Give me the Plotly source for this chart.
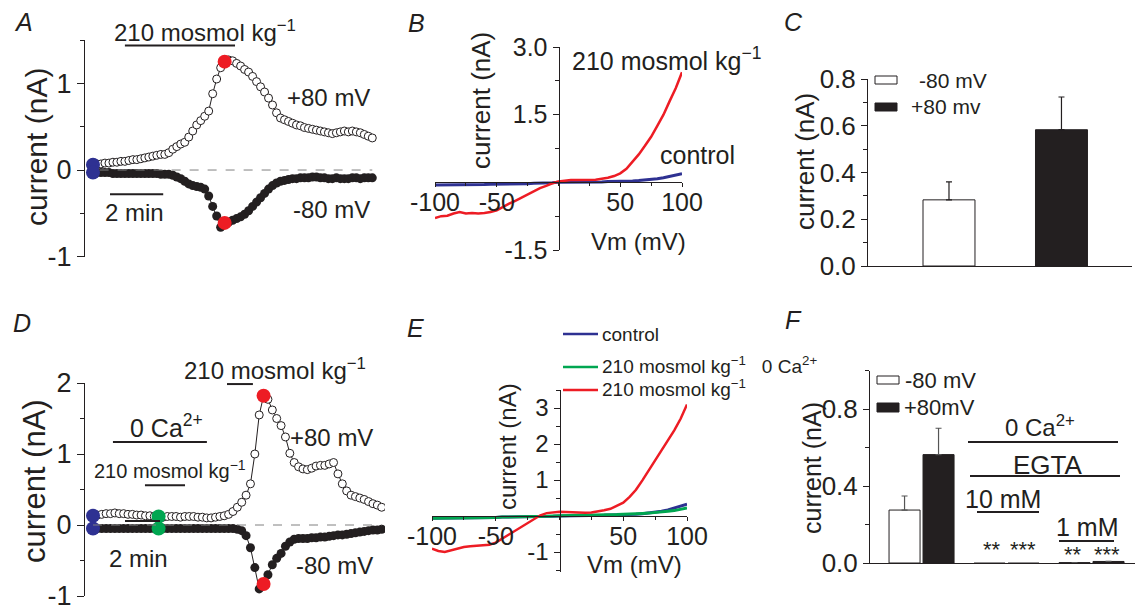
import plotly.graph_objects as go

W, H = 1137, 606
FONT = "Liberation Sans, Arial, Helvetica, sans-serif"
INK = "#231F20"
RED = "#ED1C24"
BLUE = "#2E3192"
GREEN = "#00A651"

# ---------------- data ----------------
# Panel A: time course, sampled every 0.15 min
a_dt = 0.15
a_pos80 = [0.06, 0.07, 0.07, 0.08, 0.08, 0.09, 0.09, 0.10, 0.10, 0.11,
           0.12, 0.12, 0.13, 0.14, 0.15, 0.16, 0.17, 0.18, 0.18, 0.20,
           0.24, 0.27, 0.30, 0.32, 0.38, 0.45, 0.52, 0.57, 0.62, 0.68,
           0.88, 1.05, 1.18, 1.25, 1.27, 1.26, 1.23, 1.20, 1.16, 1.13,
           1.08, 1.02, 0.96, 0.90, 0.83, 0.75, 0.66, 0.60, 0.58, 0.56,
           0.54, 0.52, 0.51, 0.49, 0.48, 0.47, 0.46, 0.45, 0.44, 0.43,
           0.42, 0.43, 0.44, 0.45, 0.44, 0.45, 0.44, 0.43, 0.41, 0.39,
           0.37]
a_neg80 = [-0.03, -0.03, -0.03, -0.03, -0.03, -0.04, -0.04, -0.04, -0.04, -0.04,
           -0.04, -0.04, -0.04, -0.04, -0.04, -0.04, -0.04, -0.05, -0.05, -0.05,
           -0.06, -0.08, -0.10, -0.13, -0.16, -0.18, -0.19, -0.20, -0.22, -0.30,
           -0.42, -0.53, -0.66, -0.61, -0.60, -0.58, -0.56, -0.54, -0.51, -0.47,
           -0.42, -0.37, -0.32, -0.27, -0.22, -0.18, -0.15, -0.13, -0.12, -0.11,
           -0.10, -0.10, -0.09, -0.09, -0.09, -0.08, -0.08, -0.09, -0.09, -0.10,
           -0.10, -0.09, -0.10, -0.10, -0.10, -0.09, -0.09, -0.10, -0.09, -0.09,
           -0.09]
a_blue_idx = 0
a_red_idx = 33

# Panel B: I-V curves
b_vm = list(range(-100, 101, 5))
b_hypo = [-0.79, -0.75, -0.74, -0.69, -0.66, -0.69, -0.68, -0.69, -0.68, -0.66,
          -0.62, -0.54, -0.47, -0.41, -0.34, -0.26, -0.19, -0.13, -0.08, -0.02,
          0.02, 0.04, 0.05, 0.05, 0.05, 0.05, 0.06, 0.08, 0.10, 0.14,
          0.20, 0.30, 0.45, 0.62, 0.81, 1.01, 1.25, 1.50, 1.80, 2.09,
          2.44]
b_ctrl = [-0.06, -0.06, -0.06, -0.06, -0.05, -0.05, -0.05, -0.05, -0.05, -0.04,
          -0.04, -0.04, -0.04, -0.03, -0.03, -0.03, -0.02, -0.02, -0.01, -0.01,
          0.00, 0.00, 0.01, 0.01, 0.01, 0.01, 0.01, 0.01, 0.02, 0.02,
          0.02, 0.03, 0.03, 0.04, 0.05, 0.06, 0.08, 0.10, 0.13, 0.15,
          0.19]

# Panel C: summary bars
c_labels = ["-80 mV", "+80 mv"]
c_mean = [0.283, 0.583]
c_sem = [0.077, 0.140]

# Panel D: time course, sampled every 0.25 min
d_dt = 0.25
d_pos80 = [0.13, 0.14, 0.15, 0.16, 0.16, 0.17, 0.16, 0.16, 0.15, 0.15,
           0.14, 0.14, 0.13, 0.13, 0.12, 0.12, 0.11, 0.12, 0.12, 0.12,
           0.11, 0.12, 0.12, 0.12, 0.11, 0.11, 0.10, 0.10, 0.11, 0.12,
           0.13, 0.15, 0.19, 0.25, 0.32, 0.42, 0.58, 1.00, 1.55, 1.82,
           1.77, 1.62, 1.50, 1.40, 1.24, 1.01, 0.88, 0.82, 0.79, 0.78,
           0.80, 0.83, 0.84, 0.84, 0.86, 0.88, 0.72, 0.58, 0.48, 0.42,
           0.40, 0.38, 0.36, 0.33, 0.30, 0.28, 0.25]
d_neg80 = [-0.05, -0.05, -0.05, -0.05, -0.05, -0.05, -0.05, -0.05, -0.05, -0.05,
           -0.05, -0.05, -0.05, -0.05, -0.05, -0.05, -0.05, -0.05, -0.05, -0.05,
           -0.05, -0.05, -0.05, -0.05, -0.05, -0.05, -0.05, -0.05, -0.05, -0.05,
           -0.05, -0.05, -0.05, -0.06, -0.08, -0.15, -0.32, -0.60, -0.90, -0.83,
           -0.70, -0.56, -0.47, -0.40, -0.30, -0.24, -0.20, -0.19, -0.19, -0.19,
           -0.18, -0.18, -0.17, -0.17, -0.16, -0.15, -0.14, -0.14, -0.13, -0.12,
           -0.11, -0.10, -0.09, -0.08, -0.07, -0.07, -0.06]
d_blue_idx = 0
d_green_idx = 15
d_red_idx = 39

# Panel E: I-V curves
e_vm = list(range(-100, 101, 5))
e_hypo = [-0.91, -0.97, -1.00, -0.95, -0.91, -0.86, -0.84, -0.83, -0.82, -0.80,
          -0.74, -0.63, -0.52, -0.40, -0.29, -0.19, -0.07, 0.02, 0.08, 0.11,
          0.12, 0.11, 0.10, 0.09, 0.09, 0.10, 0.12, 0.16, 0.20, 0.28,
          0.37, 0.53, 0.73, 0.99, 1.27, 1.55, 1.81, 2.08, 2.38, 2.70,
          3.10]
e_ctrl = [-0.06, -0.06, -0.06, -0.05, -0.05, -0.05, -0.05, -0.04, -0.04, -0.04,
          -0.04, -0.03, -0.03, -0.03, -0.02, -0.02, -0.02, -0.01, -0.01, -0.01,
          0.00, 0.00, 0.01, 0.01, 0.01, 0.02, 0.02, 0.02, 0.03, 0.03,
          0.04, 0.04, 0.05, 0.06, 0.08, 0.10, 0.13, 0.17, 0.22, 0.27,
          0.33]
e_hypo0ca = [-0.06, -0.06, -0.06, -0.05, -0.05, -0.05, -0.05, -0.04, -0.04, -0.04,
             -0.04, -0.03, -0.03, -0.03, -0.02, -0.02, -0.02, -0.01, -0.01, 0.00,
             0.01, 0.01, 0.01, 0.02, 0.02, 0.02, 0.03, 0.03, 0.04, 0.04,
             0.05, 0.05, 0.06, 0.07, 0.08, 0.09, 0.11, 0.13, 0.15, 0.18,
             0.22]

# Panel F: summary bars (control, 10 mM EGTA, 1 mM EGTA)
f_groups = [0, 1, 2]
f_neg80 = [0.275, -0.008, 0.002]
f_neg80_sem = [0.073, 0.0, 0.0]
f_pos80 = [0.563, -0.008, 0.008]
f_pos80_sem = [0.137, 0.0, 0.0]


# ---------------- helpers ----------------
def fx(px):
    return px / W


def fy(py):
    return 1 - py / H


def zero_pos(dom, rng):
    return dom[0] + (0 - rng[0]) / (rng[1] - rng[0]) * (dom[1] - dom[0])


annotations = []
shapes = []


def txt(px, py, s, size=24, xa="center", ya="middle", angle=0):
    annotations.append(dict(x=fx(px), y=fy(py), xref="paper", yref="paper", text=s,
                            showarrow=False, xanchor=xa, yanchor=ya, textangle=angle,
                            font=dict(size=size, color=INK, family=FONT)))


def pline(x0, x1, y, width=2):
    shapes.append(dict(type="line", xref="paper", yref="paper", x0=fx(x0), x1=fx(x1),
                       y0=fy(y), y1=fy(y), line=dict(color=INK, width=width)))


def dline(xr, yr, x0, x1, y, width=2, dash=None, color=INK):
    ln = dict(color=color, width=width)
    if dash:
        ln["dash"] = dash
    shapes.append(dict(type="line", xref=xr, yref=yr, x0=x0, x1=x1, y0=y, y1=y, line=ln))


def prect(x0, y0, x1, y1, fill):
    shapes.append(dict(type="rect", xref="paper", yref="paper", x0=fx(x0), x1=fx(x1),
                       y0=fy(y1), y1=fy(y0), fillcolor=fill, line=dict(color=INK, width=1)))


fig = go.Figure()

# ---------- Panel A ----------
a_t = [i * a_dt for i in range(len(a_pos80))]
dline("x", "y", a_t[1] + 0.1, a_t[-1], 0, width=1, dash="dash", color="#808080")
fig.add_trace(go.Scatter(x=a_t, y=a_neg80, mode="lines+markers", line=dict(color=INK, width=1),
                         marker=dict(size=9, color=INK), xaxis="x", yaxis="y"))
fig.add_trace(go.Scatter(x=a_t, y=a_pos80, mode="lines+markers", line=dict(color=INK, width=1),
                         marker=dict(size=8, color="white", line=dict(color=INK, width=1)),
                         xaxis="x", yaxis="y"))
fig.add_trace(go.Scatter(x=[a_t[a_blue_idx]] * 2, y=[a_pos80[a_blue_idx], a_neg80[a_blue_idx]],
                         mode="markers", marker=dict(size=14, color=BLUE), xaxis="x", yaxis="y"))
fig.add_trace(go.Scatter(x=[a_t[a_red_idx]] * 2, y=[a_pos80[a_red_idx], a_neg80[a_red_idx]],
                         mode="markers", marker=dict(size=14, color=RED), xaxis="x", yaxis="y"))

# ---------- Panel B ----------
fig.add_trace(go.Scatter(x=b_vm, y=b_ctrl, mode="lines", line=dict(color=BLUE, width=3),
                         xaxis="x2", yaxis="y2"))
fig.add_trace(go.Scatter(x=b_vm, y=b_hypo, mode="lines", line=dict(color=RED, width=2.5),
                         xaxis="x2", yaxis="y2"))

# ---------- Panel C ----------
c_fill = ["white", INK]
for i in range(2):
    fig.add_trace(go.Bar(x=[i], y=[c_mean[i]], width=0.462, offset=-0.231,
                         marker=dict(color=c_fill[i], line=dict(color=INK, width=1)),
                         error_y=dict(type="data", symmetric=False, array=[c_sem[i]], arrayminus=[0],
                                      color=INK, thickness=1.2, width=3),
                         xaxis="x3", yaxis="y3"))

# ---------- Panel D ----------
d_t = [i * d_dt for i in range(len(d_pos80))]
dline("x4", "y4", d_t[0], d_t[-1], 0, width=1, dash="dash", color="#808080")
fig.add_trace(go.Scatter(x=d_t, y=d_neg80, mode="lines+markers", line=dict(color=INK, width=1),
                         marker=dict(size=9, color=INK), xaxis="x4", yaxis="y4"))
fig.add_trace(go.Scatter(x=d_t, y=d_pos80, mode="lines+markers", line=dict(color=INK, width=1),
                         marker=dict(size=8, color="white", line=dict(color=INK, width=1)),
                         xaxis="x4", yaxis="y4"))
for idx, col in [(d_blue_idx, BLUE), (d_green_idx, GREEN), (d_red_idx, RED)]:
    fig.add_trace(go.Scatter(x=[d_t[idx]] * 2, y=[d_pos80[idx], d_neg80[idx]], mode="markers",
                             marker=dict(size=14, color=col), xaxis="x4", yaxis="y4"))

# ---------- Panel E ----------
fig.add_trace(go.Scatter(x=e_vm, y=e_ctrl, mode="lines", line=dict(color=BLUE, width=3),
                         xaxis="x5", yaxis="y5"))
fig.add_trace(go.Scatter(x=e_vm, y=e_hypo0ca, mode="lines", line=dict(color=GREEN, width=3),
                         xaxis="x5", yaxis="y5"))
fig.add_trace(go.Scatter(x=e_vm, y=e_hypo, mode="lines", line=dict(color=RED, width=2.5),
                         xaxis="x5", yaxis="y5"))

# ---------- Panel F ----------
fig.add_trace(go.Bar(x=f_groups, y=f_neg80, width=0.365, offset=-0.382,
                     marker=dict(color="white", line=dict(color=INK, width=1)),
                     error_y=dict(type="data", symmetric=False, array=f_neg80_sem,
                                  arrayminus=[0, 0, 0], color="#555555", thickness=1.2, width=3),
                     xaxis="x6", yaxis="y6"))
fig.add_trace(go.Bar(x=f_groups, y=f_pos80, width=0.365, offset=0.018,
                     marker=dict(color=INK, line=dict(color=INK, width=1)),
                     error_y=dict(type="data", symmetric=False, array=f_pos80_sem,
                                  arrayminus=[0, 0, 0], color="#555555", thickness=1.2, width=3),
                     xaxis="x6", yaxis="y6"))


# ---------------- axes ----------------
def yax(dom, rng, tickvals, ticktext, minor_dtick, anchor=None, position=None, ticklen=7, size=26):
    d = dict(domain=dom, range=rng, showline=True, linecolor=INK, linewidth=1, ticks="outside",
             ticklen=ticklen, tickcolor=INK, tickwidth=1, tickvals=tickvals, ticktext=ticktext,
             tickfont=dict(size=size, color=INK, family=FONT), showgrid=False, zeroline=False,
             automargin=False, fixedrange=True, ticklabeloverflow="allow",
             minor=dict(dtick=minor_dtick, ticks="outside", ticklen=4, tickcolor=INK, showgrid=False))
    if position is not None:
        d["anchor"] = "free"
        d["position"] = position
    else:
        d["anchor"] = anchor
    return d


def xiv(dom, rng, position, size):
    return dict(domain=dom, range=rng, anchor="free", position=position,
                showline=True, linecolor=INK, linewidth=1, ticks="outside", ticklen=4,
                tickcolor=INK, tickvals=[-100, -50, 50, 100], ticktext=["-100", "-50", "50", "100"],
                tickfont=dict(size=size, color=INK, family=FONT), showgrid=False, zeroline=False,
                automargin=False, ticklabeloverflow="allow", ticklabelstandoff=-6,
                minor=dict(dtick=25, ticks="outside", ticklen=3, tickcolor=INK, showgrid=False))


def xbar(dom, rng, anchor):
    return dict(domain=dom, range=rng, anchor=anchor, showline=True, linecolor=INK,
                linewidth=1, ticks="", showticklabels=False, showgrid=False, zeroline=False,
                automargin=False)


layout_axes = {}
# A
xA_dom = [fx(85), fx(380)]
yA_dom = [fy(256.7), fy(40)]
layout_axes["xaxis"] = dict(domain=xA_dom, range=[-0.3, 10.79], visible=False, anchor="y", automargin=False)
layout_axes["yaxis"] = yax(yA_dom, [-1, 1.5], [-1, 0, 1], ["-1", "0", "1"], 0.5, anchor="x", size=27)

# B
xB_dom = [fx(435), fx(682)]
yB_dom = [fy(250), fy(47)]
xB_rng = [-100, 100]
yB_rng = [-1.5, 3.0]
layout_axes["xaxis2"] = xiv(xB_dom, xB_rng, zero_pos(yB_dom, yB_rng), 25)
layout_axes["yaxis2"] = yax(yB_dom, yB_rng, [-1.5, 1.5, 3.0], ["-1.5", "1.5", "3.0"], 0.75,
                            position=zero_pos(xB_dom, xB_rng), ticklen=6, size=25)

# C
xC_dom = [fx(868), fx(1132)]
yC_dom = [fy(266), fy(79)]
layout_axes["xaxis3"] = xbar(xC_dom, [-0.72, 1.627], "y3")
layout_axes["yaxis3"] = yax(yC_dom, [0, 0.8], [0, 0.2, 0.4, 0.6, 0.8], ["0.0", "0.2", "0.4", "0.6", "0.8"],
                            0.1, anchor="x3", ticklen=6, size=26)

# D
xD_dom = [fx(85), fx(385)]
yD_dom = [fy(596), fy(383)]
layout_axes["xaxis4"] = dict(domain=xD_dom, range=[-0.457, 16.69], visible=False, anchor="y4", automargin=False)
layout_axes["yaxis4"] = yax(yD_dom, [-1, 2], [-1, 0, 1, 2], ["-1", "0", "1", "2"], 0.5, anchor="x4", size=27)

# E
xE_dom = [fx(432), fx(687)]
yE_dom = [fy(571.8), fy(390)]
xE_rng = [-100, 100]
yE_rng = [-1.55, 3.5]
layout_axes["xaxis5"] = xiv(xE_dom, xE_rng, zero_pos(yE_dom, yE_rng), 25)
layout_axes["yaxis5"] = yax(yE_dom, yE_rng, [-1, 1, 2, 3], ["-1", "1", "2", "3"], 0.5,
                            position=zero_pos(xE_dom, xE_rng), ticklen=6, size=24)

# F
xF_dom = [fx(870), fx(1135)]
yF_dom = [fy(563), fy(370.5)]
layout_axes["xaxis6"] = xbar(xF_dom, [-0.606, 2.512], "y6")
layout_axes["yaxis6"] = yax(yF_dom, [0, 1.0], [0, 0.4, 0.8], ["0.0", "0.4", "0.8"], 0.2, anchor="x6",
                            ticklen=6, size=26)

# ---------------- decorations ----------------
# A
dline("x", "y", 1.2, 5.34, 1.437, width=2)
dline("x", "y", 0.64, 2.64, -0.28, width=2)
txt(23, 22, "<i>A</i>", size=25)
txt(112, 31, "210 mosmol kg<sup>−1</sup>", size=24, xa="left")
txt(372, 97, "+80 mV", size=24, xa="right")
txt(372, 209, "-80 mV", size=24, xa="right")
txt(134, 212, "2 min", size=24)
txt(36, 147, "current (nA)", size=30, angle=-90)

# B
txt(416, 23, "<i>B</i>", size=25)
txt(481, 101, "current (nA)", size=26, angle=-90)
txt(570, 59, "210 mosmol kg<sup>−1</sup>", size=25, xa="left")
txt(658, 155, "control", size=25, xa="left")
txt(589, 241, "Vm (mV)", size=24, xa="left")

# C
txt(793, 22, "<i>C</i>", size=25)
txt(805, 162, "current (nA)", size=26, angle=-90)
prect(875, 76, 897, 84, "white")
prect(875, 103, 897, 111, INK)
txt(917, 80, "-80 mV", size=21, xa="left")
txt(909, 107, "+80 mv", size=21, xa="left")

# D
dline("x4", "y4", 7.66, 9.14, 1.985, width=2)
dline("x4", "y4", 1.14, 6.51, 1.17, width=2)
dline("x4", "y4", 2.97, 5.26, 0.56, width=2)
dline("x4", "y4", 1.83, 3.83, 0.056, width=2)
txt(22, 323, "<i>D</i>", size=25)
txt(34, 481, "current (nA)", size=31, angle=-90)
txt(182, 369, "210 mosmol kg<sup>−1</sup>", size=24, xa="left")
txt(128, 426, "0 Ca<sup>2+</sup>", size=25, xa="left")
txt(92, 470, "210 mosmol kg<sup>−1</sup>", size=20, xa="left")
txt(375, 437, "+80 mV", size=24, xa="right")
txt(375, 565, "-80 mV", size=24, xa="right")
txt(138, 558, "2 min", size=24)

# E
txt(415, 328, "<i>E</i>", size=25)
txt(507, 447, "current (nA)", size=24, angle=-90)
txt(585, 564, "Vm (mV)", size=24, xa="left")
for yy, col in [(334, BLUE), (367, GREEN), (390, RED)]:
    shapes.append(dict(type="line", xref="paper", yref="paper", x0=fx(563), x1=fx(598), y0=fy(yy), y1=fy(yy),
                       line=dict(color=col, width=2.5)))
txt(600, 334, "control", size=19, xa="left")
txt(600, 365, "210 mosmol kg<sup>−1</sup>\u00a0\u00a0 0 Ca<sup>2+</sup>", size=19, xa="left")
txt(600, 388, "210 mosmol kg<sup>−1</sup>", size=19, xa="left")

# F
txt(793, 320, "<i>F</i>", size=25)
txt(812, 468, "current (nA)", size=25, angle=-90)
prect(877, 376, 899, 384, "white")
prect(877, 403, 899, 412, INK)
txt(903, 380, "-80 mV", size=22, xa="left")
txt(902, 407, "+80mV", size=22, xa="left")
txt(1040, 426, "0 Ca<sup>2+</sup>", size=24)
pline(968, 1118, 442)
txt(1048, 465, "EGTA", size=26)
pline(970, 1120, 476)
txt(1003, 499, "10 mM", size=25)
pline(977, 1039, 512)
txt(1087, 527, "1 mM", size=25)
pline(1059, 1114, 541)
txt(992, 549, "**", size=22)
txt(1023, 549, "***", size=22)
txt(1073, 554, "**", size=22)
txt(1107, 554, "***", size=22)

fig.update_layout(
    width=W, height=H, autosize=False,
    margin=dict(l=0, r=0, t=0, b=0, autoexpand=False),
    paper_bgcolor="white", plot_bgcolor="rgba(0,0,0,0)",
    showlegend=False, barmode="overlay",
    font=dict(family=FONT, color=INK),
    annotations=annotations, shapes=shapes,
    **layout_axes,
)

fig.write_html("out.html", config={"displayModeBar": False},
               post_script="document.body.style.margin='0';document.body.style.overflow='hidden';")
